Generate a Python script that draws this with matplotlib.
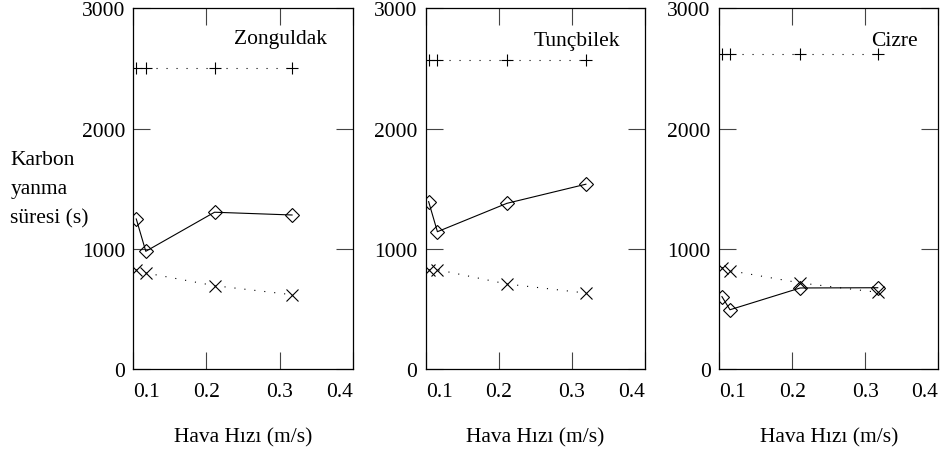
import numpy as np
import matplotlib
matplotlib.use("Agg")
import matplotlib.pyplot as plt

plt.rcParams['font.family'] = ['Liberation Serif', 'DejaVu Serif']
plt.rcParams['font.size'] = 15.5

# air velocity (m/s) and burn times (s)
sites = ["Zonguldak", "Tunçbilek", "Cizre"]
hiz = [
    [0.104, 0.117, 0.211, 0.317],
    [0.104, 0.116, 0.211, 0.319],
    [0.104, 0.115, 0.211, 0.317],
]
arti = [  # "+" series
    [2500, 2500, 2500, 2500],
    [2571, 2571, 2571, 2571],
    [2621, 2621, 2621, 2621],
]
elmas = [  # diamond series
    [1248, 979, 1304, 1281],
    [1392, 1142, 1378, 1537],
    [602, 493, 674, 676],
]
carpi = [  # "x" series
    [826, 799, 693, 618],
    [826, 826, 707, 632],
    [843, 818, 716, 638],
]
xticks = [0.1, 0.2, 0.3, 0.4]
yticks = [0, 1000, 2000, 3000]

fig = plt.figure(figsize=(9.41, 4.52), dpi=100)

lefts = [0.1417, 0.4524, 0.7641]
title_pos = [(0.883, 0.915), (0.885, 0.91), (0.905, 0.912)]
dotted = (0, (1, 8))

for i in range(3):
    ax = fig.add_axes([lefts[i], 0.1814, 0.2332, 0.798])

    ax.plot(hiz[i], arti[i], color='black', lw=0.8, linestyle=dotted,
            marker='+', ms=9, mew=0.8)
    ax.plot(hiz[i], elmas[i], color='black', lw=0.8, linestyle='-',
            marker='D', ms=7, mew=0.8, mfc='none')
    ax.plot(hiz[i], carpi[i], color='black', lw=0.8, linestyle=dotted,
            marker='x', ms=8, mew=0.8)

    ax.set_xlim(0.1, 0.4)
    ax.set_ylim(0, 3000)
    ax.set_xticks(xticks)
    ax.set_xticklabels([str(t) for t in xticks])
    ax.set_yticks(yticks)
    ax.set_yticklabels([str(t) for t in yticks])
    ax.tick_params(direction='in', length=12, width=0.8, color='#444444',
                   top=True, right=True)
    ax.tick_params(axis='x', pad=9)
    ax.tick_params(axis='y', pad=6)
    labs = ax.get_xticklabels()
    labs[0].set_horizontalalignment('left')
    labs[-1].set_horizontalalignment('right')
    for sp in ax.spines.values():
        sp.set_linewidth(0.9)

    ax.text(title_pos[i][0], title_pos[i][1], sites[i], transform=ax.transAxes,
            ha='right', va='center')
    ax.set_xlabel("Hava Hızı (m/s)", labelpad=19)

fig.text(0.011, 0.58, "Karbon\nyanma\nsüresi (s)", ha='left', va='center',
         linespacing=1.7)

fig.savefig("out.png", dpi=100)
